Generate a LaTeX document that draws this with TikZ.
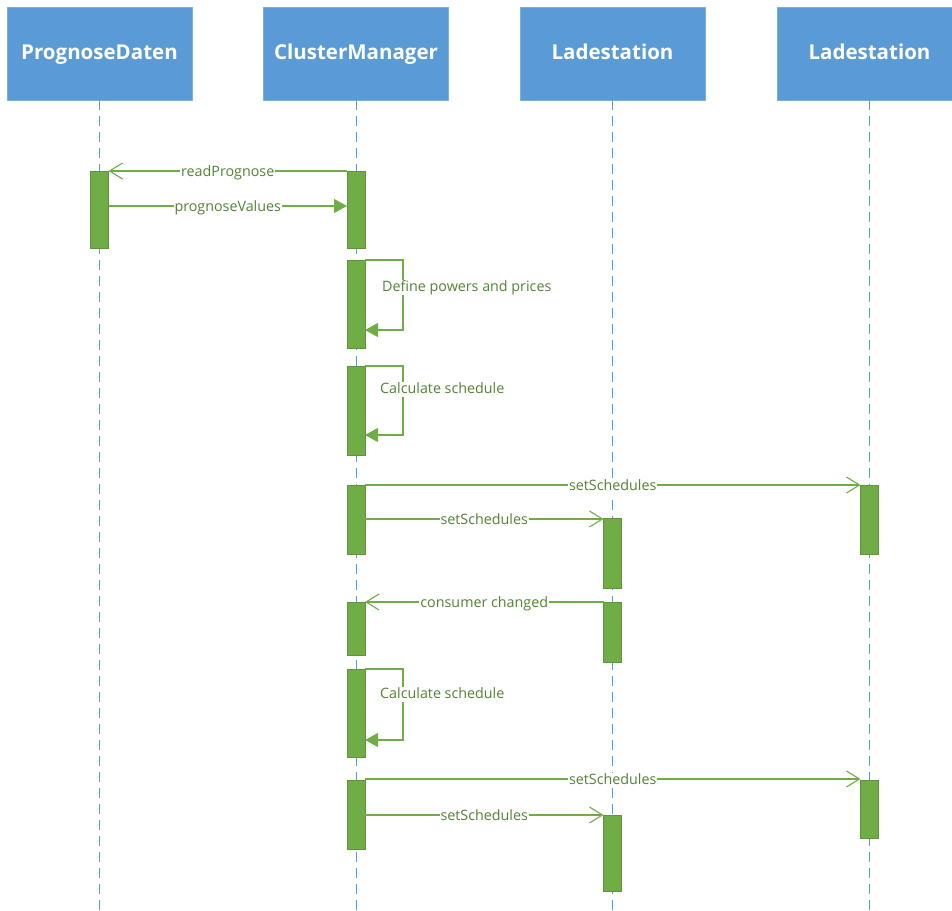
\documentclass[tikz,border=0pt]{standalone}
\usepackage{fontspec}
\setmainfont{Open Sans}
\usetikzlibrary{arrows.meta}
\definecolor{hdrblue}{HTML}{5B9BD5}
\definecolor{actgreen}{HTML}{70AD47}
\definecolor{txtgreen}{HTML}{548235}
\tikzset{
  header/.style={fill=hdrblue, draw=hdrblue!80!white, minimum width=185pt, minimum height=93pt,
    text=white, font=\fontsize{20.5}{24}\selectfont\bfseries, inner sep=0pt,
    text height=15pt, text depth=4pt},
  lifeline/.style={draw=hdrblue, line width=0.9pt, dash pattern=on 10pt off 6pt},
  actbox/.style={fill=actgreen, draw=actgreen!85!black, line width=0.4pt},
  msgline/.style={draw=actgreen, line width=1.1pt},
  openhead/.style={msgline, -{Straight Barb[length=13pt,width=16pt,line width=1.1pt]}},
  filledhead/.style={msgline, -{Triangle[length=13pt,width=14pt]}},
  msglabel/.style={fill=white, text=txtgreen, font=\fontsize{14.3}{16}\selectfont, inner sep=1pt,
    text height=10.5pt, text depth=3pt, yshift=-1.5pt},
  selflabel/.style={text=txtgreen, font=\fontsize{14.3}{16}\selectfont, inner sep=1pt, anchor=west,
    text height=10.5pt, text depth=3pt, yshift=-1.5pt}
}
\begin{document}
\begin{tikzpicture}[x=1pt,y=-1pt]
\useasboundingbox (0,0) rectangle (952,910);
\begin{scope}
\clip (0,0) rectangle (952,910);
% participants
\node[header] (pd) at (99.5,53.5) {PrognoseDaten};
\node[header] (cm) at (356,53.5) {ClusterManager};
\node[header] (l1) at (612.5,53.5) {Ladestation};
\node[header] (l2) at (869.5,53.5) {Ladestation};
\end{scope}
% lifelines
\coordinate (pdend) at (99.5,910);
\coordinate (cmend) at (356,910);
\coordinate (l1end) at (612.5,910);
\coordinate (l2end) at (869.5,910);
\draw[lifeline] (pd.south) -- (pdend);
\draw[lifeline] (cm.south) -- (cmend);
\draw[lifeline] (l1.south) -- (l1end);
\draw[lifeline] (l2.south) -- (l2end);
% activation bars
\path[actbox] (90.5,171) rectangle node (a1) {} (108.5,248);
\path[actbox] (347,171) rectangle node (a2) {} (365,248);
\path[actbox] (347,260) rectangle node (a3) {} (365,348);
\path[actbox] (347,366) rectangle node (a4) {} (365,455);
\path[actbox] (347,485) rectangle node (a5) {} (365,554);
\path[actbox] (860.5,485) rectangle node (a6) {} (878.5,554);
\path[actbox] (603.5,518) rectangle node (a7) {} (621.5,588);
\path[actbox] (347,602) rectangle node (a8) {} (365,655);
\path[actbox] (603.5,602) rectangle node (a9) {} (621.5,662);
\path[actbox] (347,669) rectangle node (a10) {} (365,757);
\path[actbox] (347,780) rectangle node (a11) {} (365,849);
\path[actbox] (860.5,780) rectangle node (a12) {} (878.5,838);
\path[actbox] (603.5,815) rectangle node (a13) {} (621.5,891);
% message end points
\coordinate (m1s) at (347,171);   \coordinate (m1e) at (108.5,171);
\coordinate (m2s) at (108.5,206); \coordinate (m2e) at (347,206);
\coordinate (s1a) at (365,260); \coordinate (s1b) at (403,260); \coordinate (s1c) at (403,330); \coordinate (s1d) at (365,330);
\coordinate (s2a) at (365,366); \coordinate (s2b) at (403,366); \coordinate (s2c) at (403,435); \coordinate (s2d) at (365,435);
\coordinate (m3s) at (365,485); \coordinate (m3e) at (860.5,485);
\coordinate (m4s) at (365,519); \coordinate (m4e) at (603.5,519);
\coordinate (m5s) at (603.5,602); \coordinate (m5e) at (365,602);
\coordinate (s3a) at (365,669); \coordinate (s3b) at (403,669); \coordinate (s3c) at (403,740); \coordinate (s3d) at (365,740);
\coordinate (m6s) at (365,779); \coordinate (m6e) at (860.5,779);
\coordinate (m7s) at (365,815); \coordinate (m7e) at (603.5,815);
% messages
\draw[openhead] (m1s) -- node[msglabel, pos=0.5] {readPrognose} (m1e);
\draw[filledhead] (m2s) -- node[msglabel, pos=0.5] {prognoseValues} (m2e);
\draw[filledhead] (s1a) -- (s1b) -- (s1c) -- (s1d);
\node[selflabel, fill=white] (t1) at (381,286) {Define powers and prices};
\draw[filledhead] (s2a) -- (s2b) -- (s2c) -- (s2d);
\node[selflabel, fill=white] (t2) at (379,388) {Calculate schedule};
\draw[openhead] (m3s) -- node[msglabel, pos=0.5] {setSchedules} (m3e);
\draw[openhead] (m4s) -- node[msglabel, pos=0.5] {setSchedules} (m4e);
\draw[openhead] (m5s) -- node[msglabel, pos=0.5] {consumer changed} (m5e);
\draw[filledhead] (s3a) -- (s3b) -- (s3c) -- (s3d);
\node[selflabel, fill=white] (t3) at (379,693) {Calculate schedule};
\draw[openhead] (m6s) -- node[msglabel, pos=0.5] {setSchedules} (m6e);
\draw[openhead] (m7s) -- node[msglabel, pos=0.5] {setSchedules} (m7e);
\end{tikzpicture}
\end{document}
